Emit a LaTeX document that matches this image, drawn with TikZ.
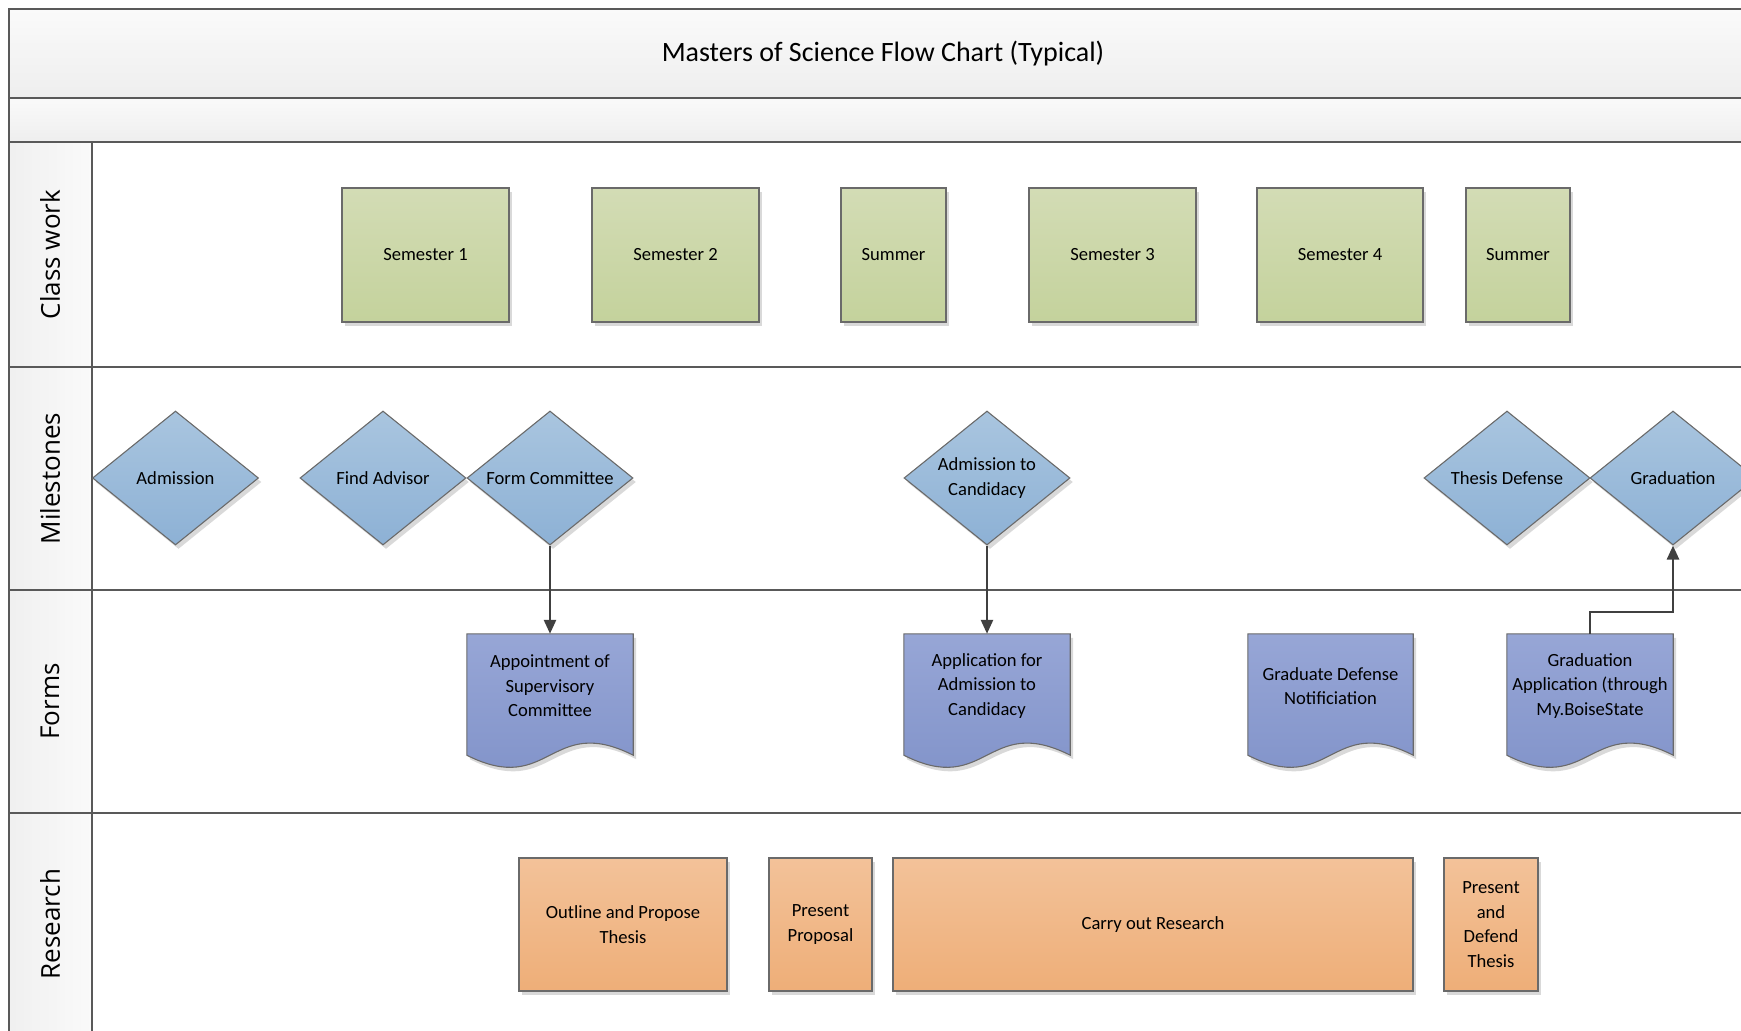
\documentclass[tikz,border=0pt]{standalone}
\usepackage{fontspec}
\setmainfont{Carlito}
\newfontfamily\lanefont{Open Sans}
\usetikzlibrary{shapes.geometric,shadows,arrows.meta,calc}
\definecolor{framecol}{HTML}{595959}
\definecolor{edgecol}{HTML}{6A6A6A}
\definecolor{greenT}{HTML}{D3DCB5}
\definecolor{greenB}{HTML}{C4D29C}
\definecolor{blueT}{HTML}{A9C5DF}
\definecolor{blueB}{HTML}{8DB1D5}
\definecolor{docT}{HTML}{97A6D6}
\definecolor{docB}{HTML}{7F91C8}
\definecolor{orT}{HTML}{F3C299}
\definecolor{orB}{HTML}{EEAE78}
\definecolor{bandT}{HTML}{FAFAFA}
\definecolor{bandB}{HTML}{EEEEEE}
\definecolor{arrowcol}{HTML}{404040}
\newcommand\docpath[1]{(#1.north west) -- (#1.north east) -- (#1.south east) .. controls ($(#1.south)+(0,-42)$) and ($(#1.south)+(0,42)$) .. (#1.south west) -- cycle}
\begin{document}
\begin{tikzpicture}[x=1pt,y=-1pt,
  every node/.style={font=\fontsize{18.6}{24.4}\selectfont, text=black, align=center},
  shadowed/.style={drop shadow={shadow xshift=3pt,shadow yshift=-4pt,fill=black,opacity=0.15}},
  classbox/.style={rectangle, draw=edgecol, line width=1.1pt, top color=greenT, bottom color=greenB, minimum height=134pt, inner sep=0pt, shadowed},
  mile/.style={diamond, shape aspect=1.24, draw=edgecol, line width=1.1pt, top color=blueT, bottom color=blueB, minimum width=166pt, minimum height=134pt, inner sep=0pt, shadowed},
  docbody/.style={rectangle, draw=none, minimum width=166pt, minimum height=121pt, inner sep=0pt},
  docshape/.style={draw=edgecol, line width=1.1pt, top color=docT, bottom color=docB, shadowed},
  doctext/.style={inner sep=0pt},
  resbox/.style={rectangle, draw=edgecol, line width=1.1pt, top color=orT, bottom color=orB, minimum height=133pt, inner sep=0pt, shadowed},
  lanelabel/.style={font=\lanefont\fontsize{26}{30}\selectfont, rotate=90, text=black},
  frameline/.style={draw=framecol, line width=2pt},
  conn/.style={draw=arrowcol, line width=2.6pt, -{Triangle[length=14pt,width=12pt]}}
]
\useasboundingbox (0,0) rectangle (1741,1031);
% bands
\fill[top color=bandT, bottom color=bandB] (9,9) rectangle (1760,98);
\fill[top color=bandT, bottom color=bandB] (9,98) rectangle (1760,142);
\fill[left color=black!6, right color=black!2] (9,142) rectangle (92,1060);
\draw[frameline] (1760,9) -- (9,9) -- (9,1060);
\draw[frameline] (9,98) -- (1760,98);
\draw[frameline] (9,142) -- (1760,142);
\draw[frameline] (9,367) -- (1760,367);
\draw[frameline] (9,590) -- (1760,590);
\draw[frameline] (9,813) -- (1760,813);
\draw[frameline] (92,142) -- (92,1060);
% title
\node[font=\fontsize{28}{32}\selectfont] (title) at (883,53.5) {Masters of Science Flow Chart (Typical)};
% lane labels
\node[lanelabel] (lclass) at (50,254.5) {Class work};
\node[lanelabel] (lmile) at (50,478.5) {Milestones};
\node[lanelabel] (lforms) at (50,701.5) {Forms};
\node[lanelabel] (lres) at (50,924) {Research};
% class work
\node[classbox, minimum width=167pt] (s1) at (425.5,255) {Semester 1};
\node[classbox, minimum width=167pt] (s2) at (675.5,255) {Semester 2};
\node[classbox, minimum width=105pt] (su1) at (893.5,255) {Summer};
\node[classbox, minimum width=167pt] (s3) at (1112.5,255) {Semester 3};
\node[classbox, minimum width=166pt] (s4) at (1340,255) {Semester 4};
\node[classbox, minimum width=104pt] (su2) at (1518,255) {Summer};
% milestones
\node[mile] (adm) at (175.5,478) {Admission};
\node[mile] (fadv) at (383,478) {Find Advisor};
\node[mile] (formc) at (550,478) {Form Committee};
\node[mile] (cand) at (987,478) {Admission to\\Candidacy};
\node[mile] (tdef) at (1507,478) {Thesis Defense};
\node[mile] (grad) at (1673,478) {Graduation};
% forms
\node[docbody] (appt) at (550,694.5) {};
\node[docbody] (appl) at (987,694.5) {};
\node[docbody, minimum width=165pt] (gdn) at (1330.5,694.5) {};
\node[docbody] (gapp) at (1590,694.5) {};
\draw[docshape] \docpath{appt};
\draw[docshape] \docpath{appl};
\draw[docshape] \docpath{gdn};
\draw[docshape] \docpath{gapp};
\node[doctext] (appt-t) at (550,686) {Appointment of\\Supervisory\\Committee};
\node[doctext] (appl-t) at (987,686) {Application for\\Admission to\\Candidacy};
\node[doctext] (gdn-t) at (1330.5,686) {Graduate Defense\\Notificiation};
\node[doctext] (gapp-t) at (1590,686) {Graduation\\Application (through\\My.BoiseState};
% research
\node[resbox, minimum width=208pt] (outl) at (623,924.5) {Outline and Propose\\Thesis};
\node[resbox, minimum width=103pt] (prop) at (820.5,924.5) {Present\\Proposal};
\node[resbox, minimum width=520pt] (carry) at (1153,924.5) {Carry out Research};
\node[resbox, minimum width=94pt] (defend) at (1491,924.5) {Present\\and\\Defend\\Thesis};
% connectors
\draw[conn] (formc.south) -- (appt.north);
\draw[conn] (cand.south) -- (appl.north);
\draw[conn] (gapp.north) -- ++(0,-22) -| (grad.south);
\end{tikzpicture}
\end{document}
